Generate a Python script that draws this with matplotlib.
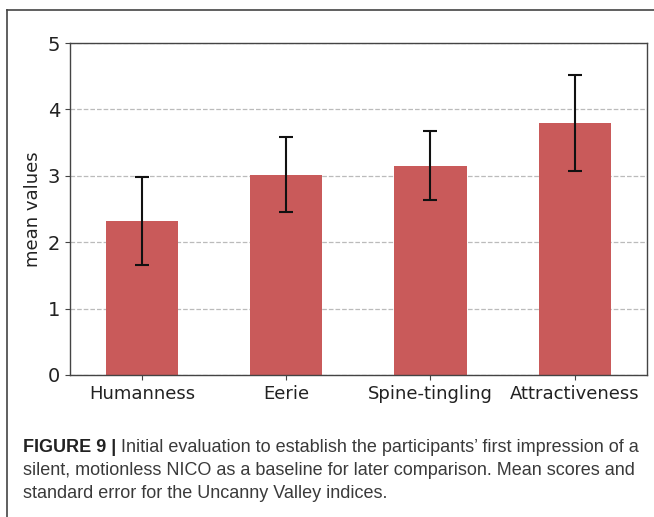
import matplotlib
matplotlib.use("Agg")
import matplotlib.pyplot as plt
from matplotlib.lines import Line2D

# data
categories = ["Humanness", "Eerie", "Spine-tingling", "Attractiveness"]
means = [2.32, 3.02, 3.15, 3.80]
errors = [0.66, 0.56, 0.52, 0.72]
yticks = [0, 1, 2, 3, 4, 5]

caption_bold = "FIGURE 9 |"
caption_lines = [
    " Initial evaluation to establish the participants\u2019 first impression of a",
    "silent, motionless NICO as a baseline for later comparison. Mean scores and",
    "standard error for the Uncanny Valley indices.",
]

plt.rcParams["font.family"] = ["DejaVu Sans"]

fig = plt.figure(figsize=(6.54, 5.17), dpi=100)
ax = fig.add_axes([0.107, 0.2747, 0.882, 0.642])

x = range(len(categories))
ax.bar(x, means, width=0.5, color="#c95a5a", zorder=2)
ax.errorbar(x, means, yerr=errors, fmt="none", ecolor="#111111",
            elinewidth=1.5, capsize=5, capthick=1.5, zorder=3)

ax.set_xlim(-0.5, 3.5)
ax.set_ylim(0, 5)
ax.set_yticks(yticks)
ax.set_xticks(list(x))
ax.set_xticklabels(categories, fontsize=13, color="#222222")
ax.tick_params(axis="y", labelsize=14, colors="#222222")
ax.tick_params(axis="both", color="#444444")
ax.set_ylabel("mean values", fontsize=13, color="#222222")
ax.grid(axis="y", linestyle="--", color="#bbbbbb", linewidth=0.9, zorder=0)
ax.set_axisbelow(True)
for s in ax.spines.values():
    s.set_color("#444444")
    s.set_linewidth(1.0)

# outer frame (top and left edges only)
fig.add_artist(Line2D([7 / 654, 1.0], [1 - 10 / 517] * 2, color="#444444",
                      linewidth=1.2, transform=fig.transFigure))
fig.add_artist(Line2D([7 / 654] * 2, [0.0, 1 - 10 / 517], color="#444444",
                      linewidth=1.2, transform=fig.transFigure))

# caption
cap_font = ["Liberation Sans", "DejaVu Sans"]
y0 = 1 - 452 / 517
t = fig.text(23 / 654, y0, caption_bold, fontsize=13, fontweight="bold",
             family=cap_font, color="#222222", va="baseline")
fig.canvas.draw()
bb = t.get_window_extent()
fig.text(bb.x1 / fig.bbox.width, y0, caption_lines[0], fontsize=13,
         family=cap_font, color="#3a3a3a", va="baseline")
for i, line in enumerate(caption_lines[1:], start=1):
    fig.text(23 / 654, y0 - i * 23 / 517, line, fontsize=13,
             family=cap_font, color="#3a3a3a", va="baseline")

fig.savefig("out.png", dpi=100)
